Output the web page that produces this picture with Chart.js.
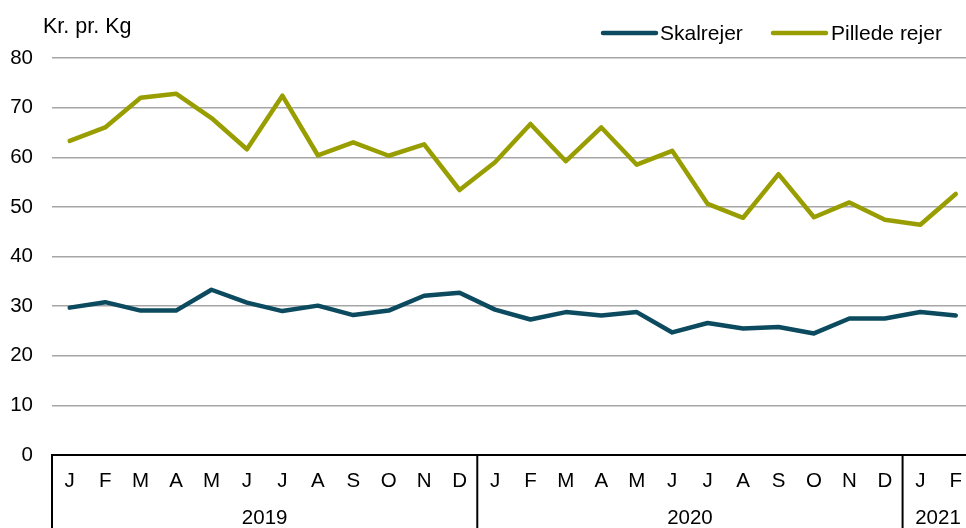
<!DOCTYPE html>
<html>
<head>
<meta charset="utf-8">
<script src="https://cdn.jsdelivr.net/npm/chart.js@4/dist/chart.umd.min.js"></script>
<style>
  html, body { margin: 0; padding: 0; background: #fff; overflow: hidden; }
  #wrap { width: 966px; height: 528px; overflow: hidden; }
</style>
</head>
<body>
<div id="wrap"><canvas id="chart" width="976" height="528"></canvas></div>
<script>
// months Jan 2019 - Feb 2021
const months = ['J','F','M','A','M','J','J','A','S','O','N','D',
                'J','F','M','A','M','J','J','A','S','O','N','D',
                'J','F'];
const years = ['2019', '2020', '2021'];
const yearStart = [0, 12, 24];
const yTicks = [0, 10, 20, 30, 40, 50, 60, 70, 80];

const skalrejer = [29.7, 30.8, 29.1, 29.1, 33.3, 30.7, 29.0, 30.1, 28.2, 29.1, 32.1, 32.7,
                   29.3, 27.3, 28.8, 28.1, 28.8, 24.7, 26.6, 25.5, 25.8, 24.5, 27.5, 27.5,
                   28.8, 28.1];
const pilledeRejer = [63.3, 66.0, 72.0, 72.8, 67.9, 61.6, 72.4, 60.4, 63.0, 60.3, 62.6, 53.4,
                      59.0, 66.7, 59.2, 66.0, 58.5, 61.3, 50.6, 47.8, 56.6, 47.9, 50.9, 47.4,
                      46.4, 52.6];

const FONT = 'Arial, "Liberation Sans", sans-serif';
const BLUE = '#0c4b5f';
const GREEN = '#999e00';

// draws the year boxes under the month labels, the unit label and the legend
const extras = {
  id: 'extras',
  afterDraw(chart) {
    const ctx = chart.ctx;
    const x = chart.scales.x;
    const area = chart.chartArea;
    const n = months.length;
    const step = x.getPixelForValue(1) - x.getPixelForValue(0);

    ctx.save();
    ctx.strokeStyle = '#000';
    ctx.lineWidth = 2;
    ctx.fillStyle = '#000';
    ctx.font = '20.5px ' + FONT;
    ctx.textAlign = 'center';
    ctx.textBaseline = 'middle';
    years.forEach(function(y, i) {
      const first = yearStart[i];
      const last = i + 1 < yearStart.length ? yearStart[i + 1] - 1 : n - 1;
      const left = x.getPixelForValue(first) - step / 2;
      const right = x.getPixelForValue(last) + step / 2;
      ctx.beginPath();
      ctx.moveTo(left, area.bottom);
      ctx.lineTo(left, chart.height);
      ctx.stroke();
      ctx.fillText(y, (left + right) / 2, 518);
    });

    // unit label + legend, a touch larger
    ctx.font = '21.5px ' + FONT;
    ctx.textAlign = 'left';
    ctx.fillText('Kr. pr. Kg', 43, 27);

    const items = [
      { ds: chart.data.datasets[0], x0: 603, x1: 656, tx: 660 },
      { ds: chart.data.datasets[1], x0: 773, x1: 826, tx: 831 }
    ];
    ctx.font = '21px ' + FONT;
    ctx.lineCap = 'round';
    ctx.lineWidth = 4.5;
    items.forEach(function(it) {
      ctx.strokeStyle = it.ds.borderColor;
      ctx.beginPath();
      ctx.moveTo(it.x0, 33);
      ctx.lineTo(it.x1, 33);
      ctx.stroke();
      ctx.fillText(it.ds.label, it.tx, 34);
    });
    ctx.restore();
  }
};

new Chart(document.getElementById('chart'), {
  type: 'line',
  data: {
    labels: months,
    datasets: [
      {
        label: 'Skalrejer',
        data: skalrejer,
        borderColor: BLUE,
        backgroundColor: BLUE,
        borderWidth: 4.5,
        pointRadius: 0,
        tension: 0,
        borderJoinStyle: 'round',
        borderCapStyle: 'round'
      },
      {
        label: 'Pillede rejer',
        data: pilledeRejer,
        borderColor: GREEN,
        backgroundColor: GREEN,
        borderWidth: 4.5,
        pointRadius: 0,
        tension: 0,
        borderJoinStyle: 'round',
        borderCapStyle: 'round'
      }
    ]
  },
  options: {
    responsive: false,
    animation: false,
    layout: { padding: { top: 58, left: 0, right: 0, bottom: 0 } },
    plugins: {
      legend: { display: false },
      tooltip: { enabled: false }
    },
    scales: {
      x: {
        offset: true,
        grid: { display: false, drawTicks: false },
        border: { display: true, color: '#000', width: 2 },
        ticks: {
          color: '#000',
          font: { family: FONT, size: 20.5 },
          padding: 14,
          maxRotation: 0,
          autoSkip: false
        },
        afterFit(scale) { scale.height = 73; }
      },
      y: {
        min: 0,
        max: 80,
        afterBuildTicks(scale) { scale.ticks = yTicks.map(v => ({ value: v })); },
        grid: { color: '#a6a6a6', lineWidth: 1.5, drawTicks: false },
        border: { display: false },
        ticks: {
          color: '#000',
          font: { family: FONT, size: 20.5 },
          padding: 19
        },
        afterFit(scale) { scale.width = 52; }
      }
    }
  },
  plugins: [extras]
});
</script>
</body>
</html>
